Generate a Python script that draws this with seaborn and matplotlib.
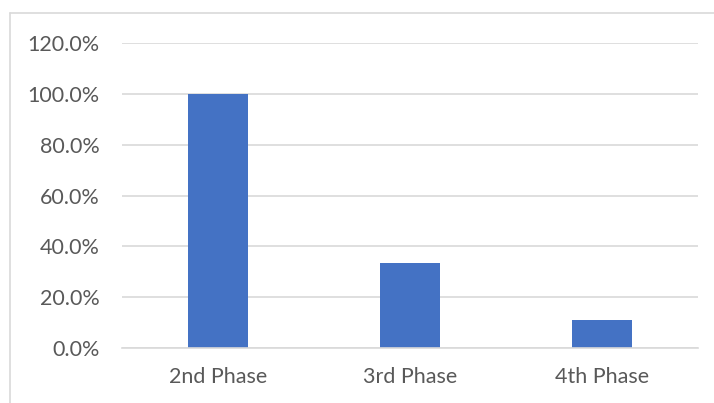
import matplotlib
matplotlib.use("Agg")
import matplotlib.pyplot as plt
from matplotlib.lines import Line2D
from matplotlib.ticker import FuncFormatter
import seaborn as sns
import pandas as pd

phases = ["2nd Phase", "3rd Phase", "4th Phase"]
share = [1.0, 0.333, 0.111]

sns.set_theme(style="white")
plt.rcParams["font.family"] = ["Lato", "DejaVu Sans"]

df = pd.DataFrame({"phase": phases, "share": share})

fig = plt.figure(figsize=(7.14, 4.03), dpi=100)
ax = fig.add_axes([0.171, 0.1365, 0.807, 0.7565])

sns.barplot(data=df, x="phase", y="share", color="#4472C4", saturation=1,
            width=0.31, linewidth=0, ax=ax)

ax.set_ylim(0, 1.2)
ax.set_yticks([0, 0.2, 0.4, 0.6, 0.8, 1.0, 1.2])
ax.yaxis.set_major_formatter(FuncFormatter(lambda v, _: f"{v*100:.1f}%"))
ax.grid(axis="y", color="#d9d9d9", linewidth=1.2)
ax.set_axisbelow(True)
for s in ["top", "right", "left"]:
    ax.spines[s].set_visible(False)
ax.spines["bottom"].set_color("#d9d9d9")
ax.spines["bottom"].set_linewidth(1.2)
ax.set_xlabel("")
ax.set_ylabel("")
ax.tick_params(axis="y", length=0, pad=16, labelsize=15.5, labelcolor="#595959")
ax.tick_params(axis="x", length=0, pad=14, labelsize=15.5, labelcolor="#595959")

# chart frame edges
fig.add_artist(Line2D([0.014, 1.0], [0.968, 0.968], transform=fig.transFigure,
                      color="#d9d9d9", linewidth=1.2))
fig.add_artist(Line2D([0.014, 0.014], [0.0, 0.968], transform=fig.transFigure,
                      color="#d9d9d9", linewidth=1.2))

fig.savefig("out.png", dpi=100)
